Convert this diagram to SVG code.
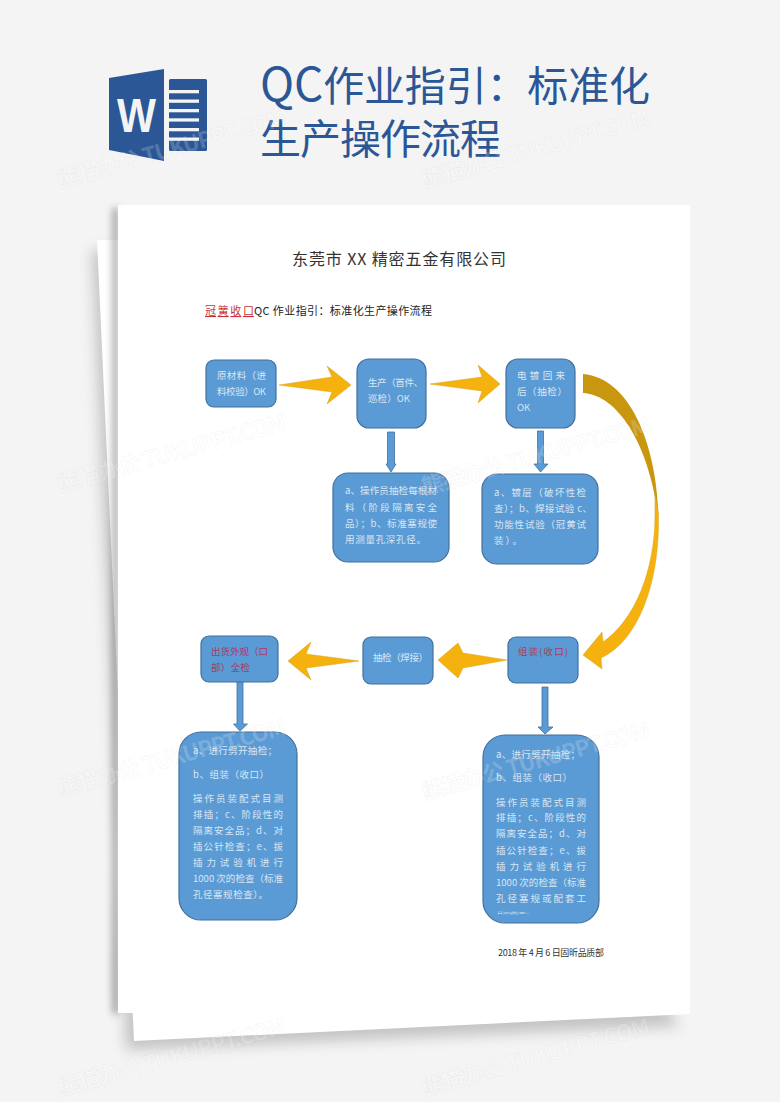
<svg xmlns="http://www.w3.org/2000/svg" width="780" height="1102" viewBox="0 0 780 1102">
<defs>
<filter id="blur8" x="-20%" y="-20%" width="140%" height="140%"><feGaussianBlur stdDeviation="7"/></filter>
<filter id="blur4" x="-200%" y="-5%" width="500%" height="110%"><feGaussianBlur stdDeviation="3.500"/></filter>
<style>
text{font-family:"Noto Sans CJK SC","Liberation Sans",sans-serif}
.node{fill:#5b9bd5;stroke:#41719c;stroke-width:1.2}
.t{fill:#d8e6f3;font-size:9.500px}
.r{fill:#a93a62;font-size:9.500px}
.big{fill:#2b5797;font-size:41px}
.gold{fill:#f5b20f;stroke:#d9a21a;stroke-width:.5}
.dark{fill:#c8960f}
.down{fill:#5b9bd5;stroke:#41719c;stroke-width:.8}
.wm{font-size:22px;fill:#fff;fill-opacity:.2;stroke:#9a9a9a;stroke-opacity:.09;stroke-width:.8;font-weight:700}
</style>
</defs>
<rect id="background" width="780" height="1102" fill="#f4f4f4"/>
<g id="header">
<path d="M109 78 164 69V161L109 150Z" fill="#2b5797"/>
<rect x="169" y="79" width="38" height="72" rx="1.500" fill="#2b5797"/>
<g fill="#f4f4f4"><rect x="169" y="90" width="30" height="3.300"/><rect x="169" y="99.500" width="30" height="3.300"/><rect x="169" y="109" width="30" height="3.300"/><rect x="169" y="118.300" width="30" height="3.300"/><rect x="169" y="128" width="30" height="3.300"/><rect x="169" y="137.500" width="30" height="3.300"/></g>
<text x="117" y="132" textLength="39" lengthAdjust="spacingAndGlyphs" style="font-family:'Liberation Sans',sans-serif;font-size:48px;font-weight:700" fill="#f4f4f4">W</text>
<text class="big" x="260" y="101" textLength="390" lengthAdjust="spacing"><tspan style="font-size:46px">QC</tspan>作业指引：标准化</text>
<text class="big" x="260" y="154" textLength="241" lengthAdjust="spacing">生产操作流程</text>
</g>
<g id="sheets">
<path d="M92 250 126 1050 680 1026 660 1000 118 1000 118 250Z" fill="#000" fill-opacity=".2" filter="url(#blur8)"/>
<path d="M97 240 690 238V1014L134 1041Z" fill="#fff"/>
<rect x="112" y="208" width="7" height="806" fill="#000" fill-opacity=".3" filter="url(#blur4)"/>
<rect x="118" y="205" width="572" height="808" fill="#fff"/>
</g>
<g id="heading">
<text x="292" y="265" font-size="16" fill="#333" textLength="214" lengthAdjust="spacing">东莞市 XX 精密五金有限公司</text>
<text x="205" y="315" font-size="11" fill="#c8323c" text-decoration="underline" textLength="49" lengthAdjust="spacing">冠簧收口 </text>
<text x="254" y="315" font-size="11" fill="#222" textLength="178" lengthAdjust="spacing">QC 作业指引：标准化生产操作流程</text>
</g>
<g id="connectors">
<path class="gold" d="M279 385 332 377 327 366 351 385 327 404 332 392Z"/>
<path class="gold" d="M430 384 482 377 478 365 500 384 478 403 482 391Z"/>
<path class="down" d="M387.500 432H394.500V464H396L391 472 386 464H387.500Z"/>
<path class="down" d="M537.500 431H543.500V464H548L540.500 472 534 464H537.500Z"/>
<path class="dark" d="M583 374C632 378 658 450 658.500 520 651 450 620 395 583 393Z"/>
<path class="gold" d="M655 495C658 508 658.500 515 658.500 520 659 580 640 640 601 658L602 669 583 655 602 632 603 642C635 620 655 570 655 515Z"/>
<path class="gold" d="M507 660 463 653 458 643 438 660 458 678 463 668Z"/>
<path class="gold" d="M359 661 306 654 311 642 288 661 311 680 306 668Z"/>
<path class="down" d="M237 682H243V724H247.500L240 731 233.500 724H237Z"/>
<path class="down" d="M542 687H548V727H553L545 734 538 727H542Z"/>
</g>
<g id="n1"><rect class="node" x="206" y="360" width="70" height="47" rx="8"/><text class="t" x="217" y="379" textLength="49" lengthAdjust="spacing">原材料（进</text><text class="t" x="217" y="395" textLength="49" lengthAdjust="spacing">料校验）OK</text></g>
<g id="n2"><rect class="node" x="357" y="359" width="69" height="69" rx="12"/><text class="t" x="368" y="386" textLength="55" lengthAdjust="spacing">生产（首件、</text><text class="t" x="368" y="402" textLength="42" lengthAdjust="spacing">巡检）OK</text></g>
<g id="n3"><rect class="node" x="506" y="359" width="69" height="69" rx="12"/><text class="t" x="517" y="379" textLength="48" lengthAdjust="spacing">电镀回来</text><text class="t" x="517" y="395" textLength="50" lengthAdjust="spacing">后（抽检）</text><text class="t" x="517" y="411">OK</text></g>
<g id="n4"><rect class="node" x="333" y="473" width="116" height="89" rx="15"/><text class="t" x="345" y="494" textLength="92" lengthAdjust="spacing">a、操作员抽检每根材</text><text class="t" x="345" y="511" textLength="92" lengthAdjust="spacing">料（阶段隔离安全</text><text class="t" x="345" y="527" textLength="92" lengthAdjust="spacing">品）；b、标准塞规使</text><text class="t" x="345" y="543" textLength="81" lengthAdjust="spacing">用测量孔深孔径。</text></g>
<g id="n5"><rect class="node" x="482" y="474" width="116" height="90" rx="15"/><text class="t" x="494" y="496" textLength="92" lengthAdjust="spacing">a、镀层（破坏性检</text><text class="t" x="494" y="512" textLength="98" lengthAdjust="spacing">查）；b、焊接试验 c、</text><text class="t" x="494" y="528" textLength="92" lengthAdjust="spacing">功能性试验（冠黄试</text><text class="t" x="494" y="544" textLength="28" lengthAdjust="spacing">装）。</text></g>
<g id="n6"><rect class="node" x="508" y="637" width="70" height="46" rx="8"/><text class="r" x="518" y="655" textLength="50" lengthAdjust="spacing">组装(收口)</text></g>
<g id="n7"><rect class="node" x="363" y="637" width="70" height="47" rx="8"/><text class="t" x="373" y="661" textLength="55" lengthAdjust="spacing">抽检（焊接）</text></g>
<g id="n8"><rect class="node" x="201" y="636" width="77" height="46" rx="8"/><text class="r" x="211" y="655" textLength="57" lengthAdjust="spacing">出货外观（口</text><text class="r" x="211" y="671" textLength="39" lengthAdjust="spacing">部）全检</text></g>
<g id="n9"><rect class="node" x="179" y="732" width="118" height="188" rx="22"/>
<text class="t" x="193" y="754" textLength="84" lengthAdjust="spacing">a、进行劈开抽检；</text>
<text class="t" x="193" y="778" textLength="76" lengthAdjust="spacing">b、组装（收口）</text>
<text class="t" x="193" y="802" textLength="90" lengthAdjust="spacing">操作员装配式目测</text>
<text class="t" x="193" y="818" textLength="90" lengthAdjust="spacing">排插；c、阶段性的</text>
<text class="t" x="193" y="834" textLength="90" lengthAdjust="spacing">隔离安全品；d、对</text>
<text class="t" x="193" y="850" textLength="90" lengthAdjust="spacing">插公针检查；e、拔</text>
<text class="t" x="193" y="866" textLength="90" lengthAdjust="spacing">插力试验机进行</text>
<text class="t" x="193" y="882" textLength="90" lengthAdjust="spacing">1000 次的检查（标准</text>
<text class="t" x="193" y="898" textLength="75" lengthAdjust="spacing">孔径塞规检查）。</text></g>
<g id="n10"><rect class="node" x="483" y="735" width="116" height="188" rx="22"/>
<text class="t" x="496" y="758" textLength="84" lengthAdjust="spacing">a、进行劈开抽检；</text>
<text class="t" x="496" y="781" textLength="76" lengthAdjust="spacing">b、组装（收口）</text>
<text class="t" x="496" y="806" textLength="90" lengthAdjust="spacing">操作员装配式目测</text>
<text class="t" x="496" y="821" textLength="90" lengthAdjust="spacing">排插；c、阶段性的</text>
<text class="t" x="496" y="837" textLength="90" lengthAdjust="spacing">隔离安全品；d、对</text>
<text class="t" x="496" y="854" textLength="90" lengthAdjust="spacing">插公针检查；e、拔</text>
<text class="t" x="496" y="870" textLength="90" lengthAdjust="spacing">插力试验机进行</text>
<text class="t" x="496" y="886" textLength="90" lengthAdjust="spacing">1000 次的检查（标准</text>
<text class="t" x="496" y="902" textLength="90" lengthAdjust="spacing">孔径塞规或配套工</text>
<text class="t" transform="translate(497 913.500) scale(1 .35)" style="font-size:6px" textLength="36" lengthAdjust="spacing">具测试检查）。</text></g>
<text id="footer" x="498" y="955.500" font-size="9" fill="#333" textLength="106" lengthAdjust="spacing">2018 年 4 月 6 日固昕品质部</text>
<g id="watermarks">
<text class="wm" transform="translate(60 188) rotate(-15.500)" textLength="236" lengthAdjust="spacing">熊猫办公 TUKUPPT.COM</text>
<text class="wm" transform="translate(424 188) rotate(-15.500)" textLength="236" lengthAdjust="spacing">熊猫办公 TUKUPPT.COM</text>
<text class="wm" transform="translate(60 492) rotate(-15.500)" textLength="236" lengthAdjust="spacing">熊猫办公 TUKUPPT.COM</text>
<text class="wm" transform="translate(424 495) rotate(-15.500)" textLength="236" lengthAdjust="spacing">熊猫办公 TUKUPPT.COM</text>
<text class="wm" transform="translate(60 797) rotate(-15.500)" textLength="236" lengthAdjust="spacing">熊猫办公 TUKUPPT.COM</text>
<text class="wm" transform="translate(424 800) rotate(-15.500)" textLength="236" lengthAdjust="spacing">熊猫办公 TUKUPPT.COM</text>
<text class="wm" transform="translate(60 1096) rotate(-15.500)" textLength="236" lengthAdjust="spacing">熊猫办公 TUKUPPT.COM</text>
<text class="wm" transform="translate(424 1096) rotate(-15.500)" textLength="236" lengthAdjust="spacing">熊猫办公 TUKUPPT.COM</text>
</g>
</svg>
